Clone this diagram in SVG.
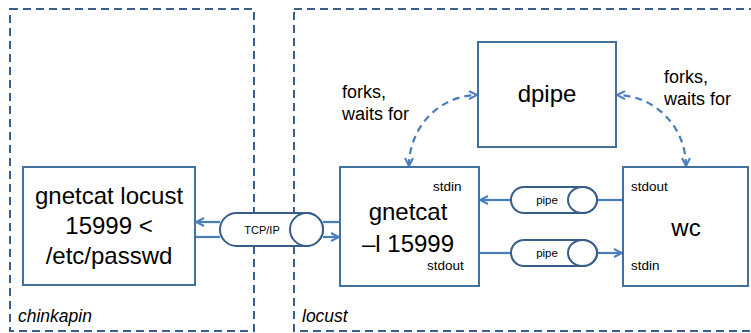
<svg xmlns="http://www.w3.org/2000/svg" width="751" height="333" viewBox="0 0 751 333">
<defs>
<style>
.frame{fill:none;stroke:#3A5F8F;stroke-width:2;stroke-dasharray:8 5}
.node{fill:#fff;stroke:#41719C;stroke-width:2}
.cyl{fill:#fff;stroke:#385D8A;stroke-width:2}
.ln{fill:none;stroke:#4A7EBB;stroke-width:2.25}
.dash{fill:none;stroke:#4A7EBB;stroke-width:2.25;stroke-dasharray:7 5}
text{font-family:"Liberation Sans",Arial,sans-serif;fill:#000}
.big{font-size:24px;text-anchor:middle}
.sm{font-size:13.5px}
.lbl{font-size:18px}
.it{font-size:17.5px;font-style:italic}
</style>
<marker id="arr" viewBox="0 0 10 10" refX="9" refY="5" markerWidth="10" markerHeight="10" markerUnits="userSpaceOnUse" orient="auto-start-reverse">
<path d="M1 1 L9 5 L1 9" fill="none" stroke="#4A7EBB" stroke-width="2"/>
</marker>
</defs>
<rect width="751" height="333" fill="#fff"/>
<g id="frames">
<rect id="chinkapin" class="frame" x="10" y="9" width="244" height="322"/>
<rect id="locust" class="frame" x="294" y="9" width="470" height="322"/>
<text class="it" x="18" y="322">chinkapin</text>
<text class="it" x="302" y="322">locust</text>
</g>
<g id="connectors">
<line class="ln" x1="220" y1="222" x2="196" y2="222" marker-end="url(#arr)"/>
<line class="ln" x1="195" y1="237" x2="220" y2="237"/>
<line class="ln" x1="323" y1="222" x2="340" y2="222"/>
<line class="ln" x1="323" y1="237" x2="339" y2="237" marker-end="url(#arr)"/>
<line class="ln" x1="623" y1="200" x2="597" y2="200"/>
<line class="ln" x1="511" y1="200" x2="480" y2="200" marker-end="url(#arr)"/>
<line class="ln" x1="479" y1="253" x2="511" y2="253"/>
<line class="ln" x1="597" y1="253" x2="622" y2="253" marker-end="url(#arr)"/>
<path class="dash" d="M409 166 A69 71 0 0 1 477 95" marker-start="url(#arr)" marker-end="url(#arr)"/>
<path class="dash" d="M686 166 A70 71 0 0 0 617 95" marker-start="url(#arr)" marker-end="url(#arr)"/>
</g>
<g id="tcpip">
<path class="cyl" d="M236.5 213 H306.5 A16.5 16.5 0 0 1 306.5 246 H236.5 A16.5 16.5 0 0 1 236.5 213 Z"/>
<ellipse class="cyl" cx="306.5" cy="229.5" rx="16.5" ry="16.5"/>
<text x="262" y="233.5" font-size="11" text-anchor="middle">TCP/IP</text>
</g>
<g id="pipe1">
<path class="cyl" d="M524 187 H582.5 A14.5 13 0 0 1 582.5 213 H524 A13 13 0 0 1 524 187 Z"/>
<ellipse class="cyl" cx="582.5" cy="200" rx="14.5" ry="13"/>
<text x="547" y="204" font-size="11.5" text-anchor="middle">pipe</text>
</g>
<g id="pipe2">
<path class="cyl" d="M524 240 H582.5 A14.5 13 0 0 1 582.5 266 H524 A13 13 0 0 1 524 240 Z"/>
<ellipse class="cyl" cx="582.5" cy="253" rx="14.5" ry="13"/>
<text x="547" y="257" font-size="11.5" text-anchor="middle">pipe</text>
</g>
<g id="client">
<rect class="node" x="23" y="167" width="172" height="118"/>
<text class="big" x="109" y="204">gnetcat locust</text>
<text class="big" x="109" y="234">15999 &lt;</text>
<text class="big" x="109" y="264">/etc/passwd</text>
</g>
<g id="server">
<rect class="node" x="340" y="167" width="139" height="119"/>
<text class="big" x="408" y="220">gnetcat</text>
<text class="big" x="408" y="252">–l 15999</text>
<text class="sm" x="433" y="191">stdin</text>
<text class="sm" x="427" y="270">stdout</text>
</g>
<g id="dpipe">
<rect class="node" x="478" y="42" width="138" height="105"/>
<text class="big" x="547" y="102">dpipe</text>
</g>
<g id="wc">
<rect class="node" x="623" y="167" width="125" height="119"/>
<text class="big" x="686" y="236">wc</text>
<text class="sm" x="631" y="191">stdout</text>
<text class="sm" x="631" y="270">stdin</text>
</g>
<g id="labels">
<text class="lbl" x="342" y="98">forks,</text>
<text class="lbl" x="342" y="120">waits for</text>
<text class="lbl" x="664" y="83">forks,</text>
<text class="lbl" x="664" y="105">waits for</text>
</g>
</svg>
